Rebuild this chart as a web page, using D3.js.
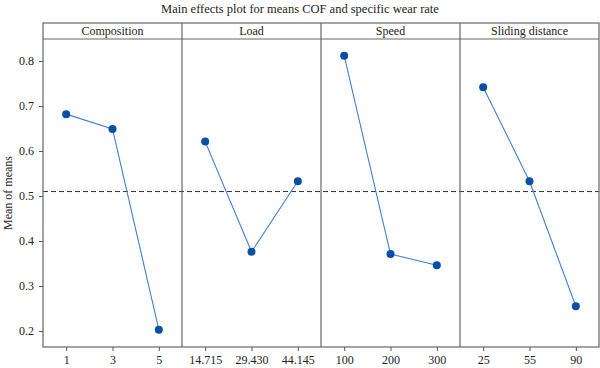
<!DOCTYPE html>
<html>
<head>
<meta charset="utf-8">
<script src="https://cdn.jsdelivr.net/npm/d3@7"></script>
<style>
  body { margin: 0; background: #fff; }
  svg text { font-family: "Liberation Serif", "DejaVu Serif", serif; fill: #222; }
</style>
</head>
<body>
<svg id="chart"></svg>
<script>
// data
const factors = ["Composition", "Load", "Speed", "Sliding distance"];
const levels = [
  ["1", "3", "5"],
  ["14.715", "29.430", "44.145"],
  ["100", "200", "300"],
  ["25", "55", "90"]
];
const means = [
  [0.682, 0.649, 0.203],
  [0.621, 0.376, 0.533],
  [0.812, 0.371, 0.346],
  [0.742, 0.533, 0.255]
];
const grandMean = 0.510;
const yTicks = [0.2, 0.3, 0.4, 0.5, 0.6, 0.7, 0.8];

const width = 600;
const height = 368;
const plotLeft = 43, plotRight = 599, plotTop = 39, stripTop = 23, plotBottom = 347;

const svg = d3.select("#chart").attr("width", width).attr("height", height);

svg.append("text")
  .attr("x", 300)
  .attr("y", 13)
  .attr("text-anchor", "middle")
  .style("font-size", "12.5px")
  .text("Main effects plot for means COF and specific wear rate");

// panel scale
const panelX = d3.scaleBand().domain(factors).range([plotLeft, plotRight]);
const y = d3.scaleLinear().domain([0.1645, 0.849]).range([plotBottom, plotTop]);

// y axis
const yAxis = svg.append("g")
  .attr("transform", `translate(${plotLeft},0)`)
  .call(d3.axisLeft(y).tickValues(yTicks).tickFormat(d3.format(".1f")).tickSize(4).tickPadding(5));
yAxis.select(".domain").remove();
yAxis.selectAll("line").attr("stroke", "#555");
yAxis.selectAll("text").style("font-size", "12px").style("font-family", "Liberation Serif, serif").attr("fill", "#222");

svg.append("text")
  .attr("transform", `translate(12,${(plotTop + plotBottom) / 2}) rotate(-90)`)
  .attr("text-anchor", "middle")
  .style("font-size", "12px")
  .text("Mean of means");

// grand mean reference line
svg.append("line")
  .attr("x1", plotLeft).attr("x2", plotRight)
  .attr("y1", y(grandMean)).attr("y2", y(grandMean))
  .attr("stroke", "#333")
  .attr("stroke-width", 1)
  .attr("stroke-dasharray", "5,3");

factors.forEach((f, i) => {
  const x0 = panelX(f);
  const x = d3.scalePoint()
    .domain(levels[i])
    .range([x0, x0 + panelX.bandwidth()])
    .padding(0.5);

  // x axis
  const xa = svg.append("g")
    .attr("transform", `translate(0,${plotBottom})`)
    .call(d3.axisBottom(x).tickSize(4).tickPadding(4).tickSizeOuter(0));
  xa.select(".domain").remove();
  xa.selectAll("line").attr("stroke", "#555");
  xa.selectAll("text").style("font-size", "12px").style("font-family", "Liberation Serif, serif").attr("fill", "#222");

  // strip label
  svg.append("text")
    .attr("x", x0 + panelX.bandwidth() / 2)
    .attr("y", stripTop + 12)
    .attr("text-anchor", "middle")
    .style("font-size", "12px")
    .text(f);

  const pts = levels[i].map((l, j) => ({ l: l, v: means[i][j] }));

  svg.append("path")
    .datum(pts)
    .attr("fill", "none")
    .attr("stroke", "#3f7fd6")
    .attr("stroke-width", 1.1)
    .attr("d", d3.line().x((d) => x(d.l)).y((d) => y(d.v)));

  svg.selectAll(null)
    .data(pts)
    .enter()
    .append("circle")
    .attr("cx", (d) => x(d.l))
    .attr("cy", (d) => y(d.v))
    .attr("r", 4)
    .attr("fill", "#0a4ea6");
});

// frames
const frame = svg.append("g").attr("fill", "none").attr("stroke", "#666").attr("stroke-width", 1.2);
frame.append("rect")
  .attr("x", plotLeft).attr("y", stripTop)
  .attr("width", plotRight - plotLeft).attr("height", plotBottom - stripTop);
frame.append("line")
  .attr("x1", plotLeft).attr("x2", plotRight)
  .attr("y1", plotTop).attr("y2", plotTop);
factors.slice(1).forEach((f) => {
  frame.append("line")
    .attr("x1", panelX(f)).attr("x2", panelX(f))
    .attr("y1", stripTop).attr("y2", plotBottom);
});
</script>
</body>
</html>
